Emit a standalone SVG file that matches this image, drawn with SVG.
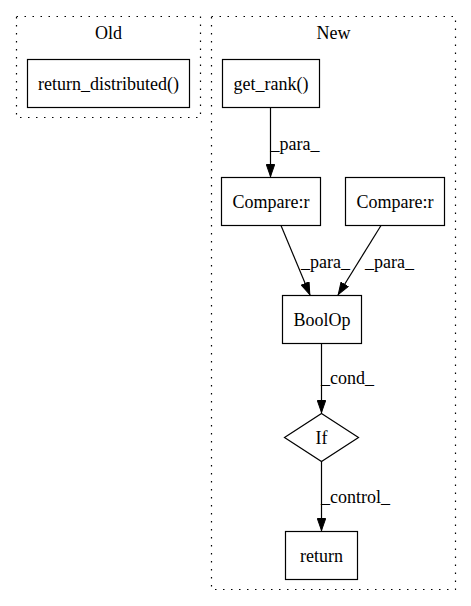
<svg xmlns="http://www.w3.org/2000/svg" width="471" height="606" viewBox="0 0 471 606">
  <style>
    text { font-family: "Liberation Serif", "Times New Roman", serif; font-size: 18px; fill: #000; }
    .cluster { fill: none; stroke: #000; stroke-width: 1.2; stroke-dasharray: 1.5,6.5; }
    .node { fill: none; stroke: #000; stroke-width: 1.2; }
    .edge { fill: none; stroke: #000; stroke-width: 1.2; }
    .mid { text-anchor: middle; }
  </style>
  <defs>
    <marker id="arrow" viewBox="0 0 13 9.4" refX="13" refY="4.7" markerWidth="13" markerHeight="9.4" markerUnits="userSpaceOnUse" orient="auto">
      <path d="M0.5,0.5 L12.5,4.7 L0.5,8.9 Z" fill="#000" stroke="#000" stroke-width="1"/>
    </marker>
  </defs>
  <rect width="471" height="606" fill="#fff"/>

  <!-- clusters -->
  <g id="cluster_old">
    <rect class="cluster" x="16.5" y="16.5" width="184" height="101"/>
    <text class="mid" x="108.5" y="39">Old</text>
  </g>
  <g id="cluster_new">
    <rect class="cluster" x="211.5" y="16.5" width="244" height="573"/>
    <text class="mid" x="333.5" y="39">New</text>
  </g>

  <!-- nodes -->
  <g id="return_distributed">
    <rect class="node" x="27.5" y="59.5" width="162" height="48"/>
    <text class="mid" x="108.5" y="90">return_distributed()</text>
  </g>
  <g id="get_rank">
    <rect class="node" x="222.5" y="59.5" width="97" height="48"/>
    <text class="mid" x="271" y="90">get_rank()</text>
  </g>
  <g id="compare_left">
    <rect class="node" x="221.5" y="177.5" width="99" height="48"/>
    <text class="mid" x="271" y="208">Compare:r</text>
  </g>
  <g id="compare_right">
    <rect class="node" x="345.5" y="177.5" width="99" height="48"/>
    <text class="mid" x="395" y="208">Compare:r</text>
  </g>
  <g id="boolop">
    <rect class="node" x="282.5" y="295.5" width="79" height="48"/>
    <text class="mid" x="322" y="326">BoolOp</text>
  </g>
  <g id="if">
    <polygon class="node" points="321.5,413.5 358.5,437.5 321.5,461.5 284.5,437.5"/>
    <text class="mid" x="321.5" y="444">If</text>
  </g>
  <g id="return">
    <rect class="node" x="285.5" y="531.5" width="72" height="48"/>
    <text class="mid" x="321.5" y="562">return</text>
  </g>

  <!-- connectors -->
  <g id="edges">
    <line class="edge" x1="270.5" y1="107.5" x2="270.5" y2="177" marker-end="url(#arrow)"/>
    <text x="270.5" y="150">_para_</text>
    <line class="edge" x1="281" y1="225.5" x2="310" y2="295" marker-end="url(#arrow)"/>
    <text x="301" y="268">_para_</text>
    <line class="edge" x1="381" y1="225.5" x2="338" y2="295" marker-end="url(#arrow)"/>
    <text x="365" y="268">_para_</text>
    <line class="edge" x1="321.5" y1="343.5" x2="321.5" y2="413" marker-end="url(#arrow)"/>
    <text x="321" y="384">_cond_</text>
    <line class="edge" x1="321.5" y1="461.5" x2="321.5" y2="531" marker-end="url(#arrow)"/>
    <text x="321" y="503">_control_</text>
  </g>
</svg>
